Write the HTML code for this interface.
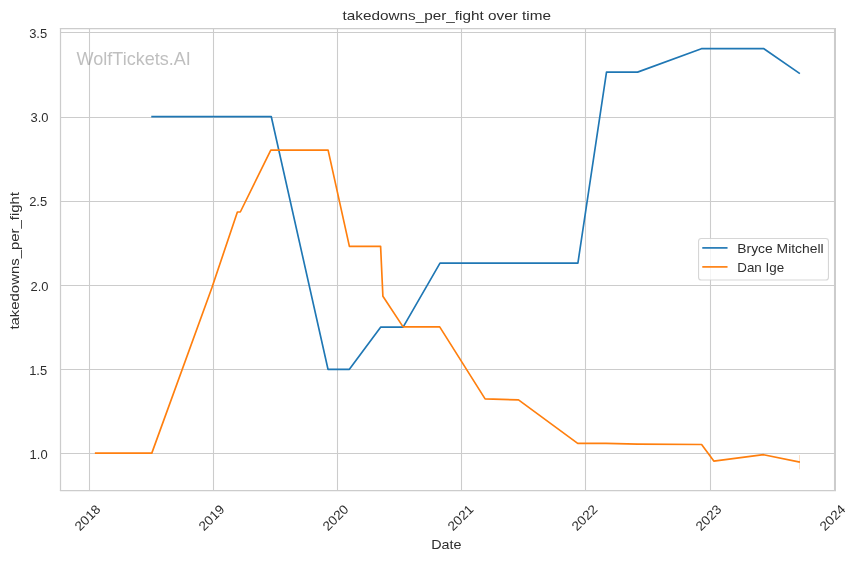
<!DOCTYPE html>
<html><head><meta charset="utf-8"><title>takedowns_per_fight over time</title>
<style>html,body{margin:0;padding:0;background:#fff;overflow:hidden}svg{display:block;will-change:transform}text{font-family:"Liberation Sans",sans-serif}</style>
</head><body>
<svg width="859" height="561" viewBox="0 0 859 561">
<rect x="0" y="0" width="859" height="561" fill="#ffffff"/>
<line x1="89.5" y1="28.5" x2="89.5" y2="490.5" stroke="#cccccc" stroke-width="1.1"/>
<line x1="213.5" y1="28.5" x2="213.5" y2="490.5" stroke="#cccccc" stroke-width="1.1"/>
<line x1="337.5" y1="28.5" x2="337.5" y2="490.5" stroke="#cccccc" stroke-width="1.1"/>
<line x1="461.5" y1="28.5" x2="461.5" y2="490.5" stroke="#cccccc" stroke-width="1.1"/>
<line x1="585.5" y1="28.5" x2="585.5" y2="490.5" stroke="#cccccc" stroke-width="1.1"/>
<line x1="710.5" y1="28.5" x2="710.5" y2="490.5" stroke="#cccccc" stroke-width="1.1"/>
<line x1="834.5" y1="28.5" x2="834.5" y2="490.5" stroke="#cccccc" stroke-width="1.1"/>
<line x1="60.5" y1="453.5" x2="835.0" y2="453.5" stroke="#cccccc" stroke-width="1.1"/>
<line x1="60.5" y1="369.5" x2="835.0" y2="369.5" stroke="#cccccc" stroke-width="1.1"/>
<line x1="60.5" y1="285.5" x2="835.0" y2="285.5" stroke="#cccccc" stroke-width="1.1"/>
<line x1="60.5" y1="201.5" x2="835.0" y2="201.5" stroke="#cccccc" stroke-width="1.1"/>
<line x1="60.5" y1="117.5" x2="835.0" y2="117.5" stroke="#cccccc" stroke-width="1.1"/>
<line x1="60.5" y1="32.5" x2="835.0" y2="32.5" stroke="#cccccc" stroke-width="1.1"/>
<line x1="60.5" y1="27.9" x2="60.5" y2="491.1" stroke="#cccccc" stroke-width="1.25"/>
<line x1="59.9" y1="28.5" x2="836.0" y2="28.5" stroke="#cccccc" stroke-width="1.25"/>
<line x1="59.9" y1="490.5" x2="836.0" y2="490.5" stroke="#cccccc" stroke-width="1.25"/>
<line x1="835.0" y1="27.9" x2="835.0" y2="491.1" stroke="#cccccc" stroke-width="2"/>
<text x="76.6" y="64.8" font-family="Liberation Sans, sans-serif" font-size="18.6" fill="#808080" fill-opacity="0.5" textLength="114.2" lengthAdjust="spacingAndGlyphs">WolfTickets.AI</text>
<line x1="799.5" y1="455.1" x2="799.5" y2="469.3" stroke="#ff7f0e" stroke-opacity="0.25" stroke-width="1"/>
<polyline points="152.1,116.7 271.3,116.7 328.0,369.3 349.4,369.3 380.6,327.2 403.1,327.2 440.0,263.1 577.9,263.1 606.5,72.1 637.6,72.1 701.4,48.7 763.9,48.7 799.2,73.2" fill="none" stroke="#1f77b4" stroke-width="1.67" stroke-linejoin="round" stroke-linecap="square"/>
<polyline points="95.7,453.1 151.8,453.1 211.8,288.0 237.4,212.0 240.3,212.0 270.8,150.1 328.1,150.1 349.4,246.4 380.6,246.4 382.9,296.2 403.1,326.9 439.7,326.9 485.1,398.9 518.5,399.9 577.7,443.3 606.0,443.4 637.6,444.2 701.6,444.5 713.8,461.1 763.6,454.7 799.1,461.9" fill="none" stroke="#ff7f0e" stroke-width="1.67" stroke-linejoin="round" stroke-linecap="square"/>
<text x="342.5" y="19.8" font-family="Liberation Sans, sans-serif" font-size="13.6" fill="#2e2e2e" textLength="208.5" lengthAdjust="spacingAndGlyphs">takedowns_per_fight over time</text>
<text transform="translate(19.1,329.6) rotate(-90)" x="0" y="0" font-family="Liberation Sans, sans-serif" font-size="13.6" fill="#2e2e2e" textLength="137.6" lengthAdjust="spacingAndGlyphs">takedowns_per_fight</text>
<text x="431.2" y="549.0" font-family="Liberation Sans, sans-serif" font-size="13.6" fill="#2e2e2e" textLength="30.3" lengthAdjust="spacingAndGlyphs">Date</text>
<text x="47.15" y="37.7" font-family="Liberation Sans, sans-serif" font-size="12.95" fill="#2e2e2e" text-anchor="end">3.5</text>
<text x="48.5" y="121.6" font-family="Liberation Sans, sans-serif" font-size="12.95" fill="#2e2e2e" text-anchor="end">3.0</text>
<text x="47.15" y="205.7" font-family="Liberation Sans, sans-serif" font-size="12.95" fill="#2e2e2e" text-anchor="end">2.5</text>
<text x="48.5" y="290.7" font-family="Liberation Sans, sans-serif" font-size="12.95" fill="#2e2e2e" text-anchor="end">2.0</text>
<text x="47.15" y="374.7" font-family="Liberation Sans, sans-serif" font-size="12.95" fill="#2e2e2e" text-anchor="end">1.5</text>
<text x="47.6" y="458.7" font-family="Liberation Sans, sans-serif" font-size="12.95" fill="#2e2e2e" text-anchor="end">1.0</text>
<text transform="translate(87.5,517.7) rotate(-45)" x="-15.0" y="4.45" font-family="Liberation Sans, sans-serif" font-size="12.95" fill="#2e2e2e" textLength="30.0" lengthAdjust="spacingAndGlyphs">2018</text>
<text transform="translate(211.5,517.7) rotate(-45)" x="-15.0" y="4.45" font-family="Liberation Sans, sans-serif" font-size="12.95" fill="#2e2e2e" textLength="30.0" lengthAdjust="spacingAndGlyphs">2019</text>
<text transform="translate(335.5,517.7) rotate(-45)" x="-15.0" y="4.45" font-family="Liberation Sans, sans-serif" font-size="12.95" fill="#2e2e2e" textLength="30.0" lengthAdjust="spacingAndGlyphs">2020</text>
<text transform="translate(460.5,517.7) rotate(-45)" x="-15.0" y="4.45" font-family="Liberation Sans, sans-serif" font-size="12.95" fill="#2e2e2e" textLength="30.0" lengthAdjust="spacingAndGlyphs">2021</text>
<text transform="translate(584.5,517.7) rotate(-45)" x="-15.0" y="4.45" font-family="Liberation Sans, sans-serif" font-size="12.95" fill="#2e2e2e" textLength="30.0" lengthAdjust="spacingAndGlyphs">2022</text>
<text transform="translate(708.5,517.7) rotate(-45)" x="-15.0" y="4.45" font-family="Liberation Sans, sans-serif" font-size="12.95" fill="#2e2e2e" textLength="30.0" lengthAdjust="spacingAndGlyphs">2023</text>
<text transform="translate(832.5,517.7) rotate(-45)" x="-15.0" y="4.45" font-family="Liberation Sans, sans-serif" font-size="12.95" fill="#2e2e2e" textLength="30.0" lengthAdjust="spacingAndGlyphs">2024</text>
<rect x="698.55" y="238.55" width="129.9" height="41.4" rx="2.8" ry="2.8" fill="#ffffff" fill-opacity="0.8" stroke="#cccccc" stroke-opacity="0.8" stroke-width="1.1"/>
<line x1="703.1" y1="247.9" x2="726.7" y2="247.9" stroke="#1f77b4" stroke-width="1.67" stroke-linecap="square"/>
<line x1="703.1" y1="266.9" x2="726.7" y2="266.9" stroke="#ff7f0e" stroke-width="1.67" stroke-linecap="square"/>
<text x="737.3" y="252.7" font-family="Liberation Sans, sans-serif" font-size="12.95" fill="#2e2e2e" textLength="86.3" lengthAdjust="spacingAndGlyphs">Bryce Mitchell</text>
<text x="737.3" y="271.9" font-family="Liberation Sans, sans-serif" font-size="12.95" fill="#2e2e2e" textLength="46.8" lengthAdjust="spacingAndGlyphs">Dan Ige</text>
</svg>
</body></html>
